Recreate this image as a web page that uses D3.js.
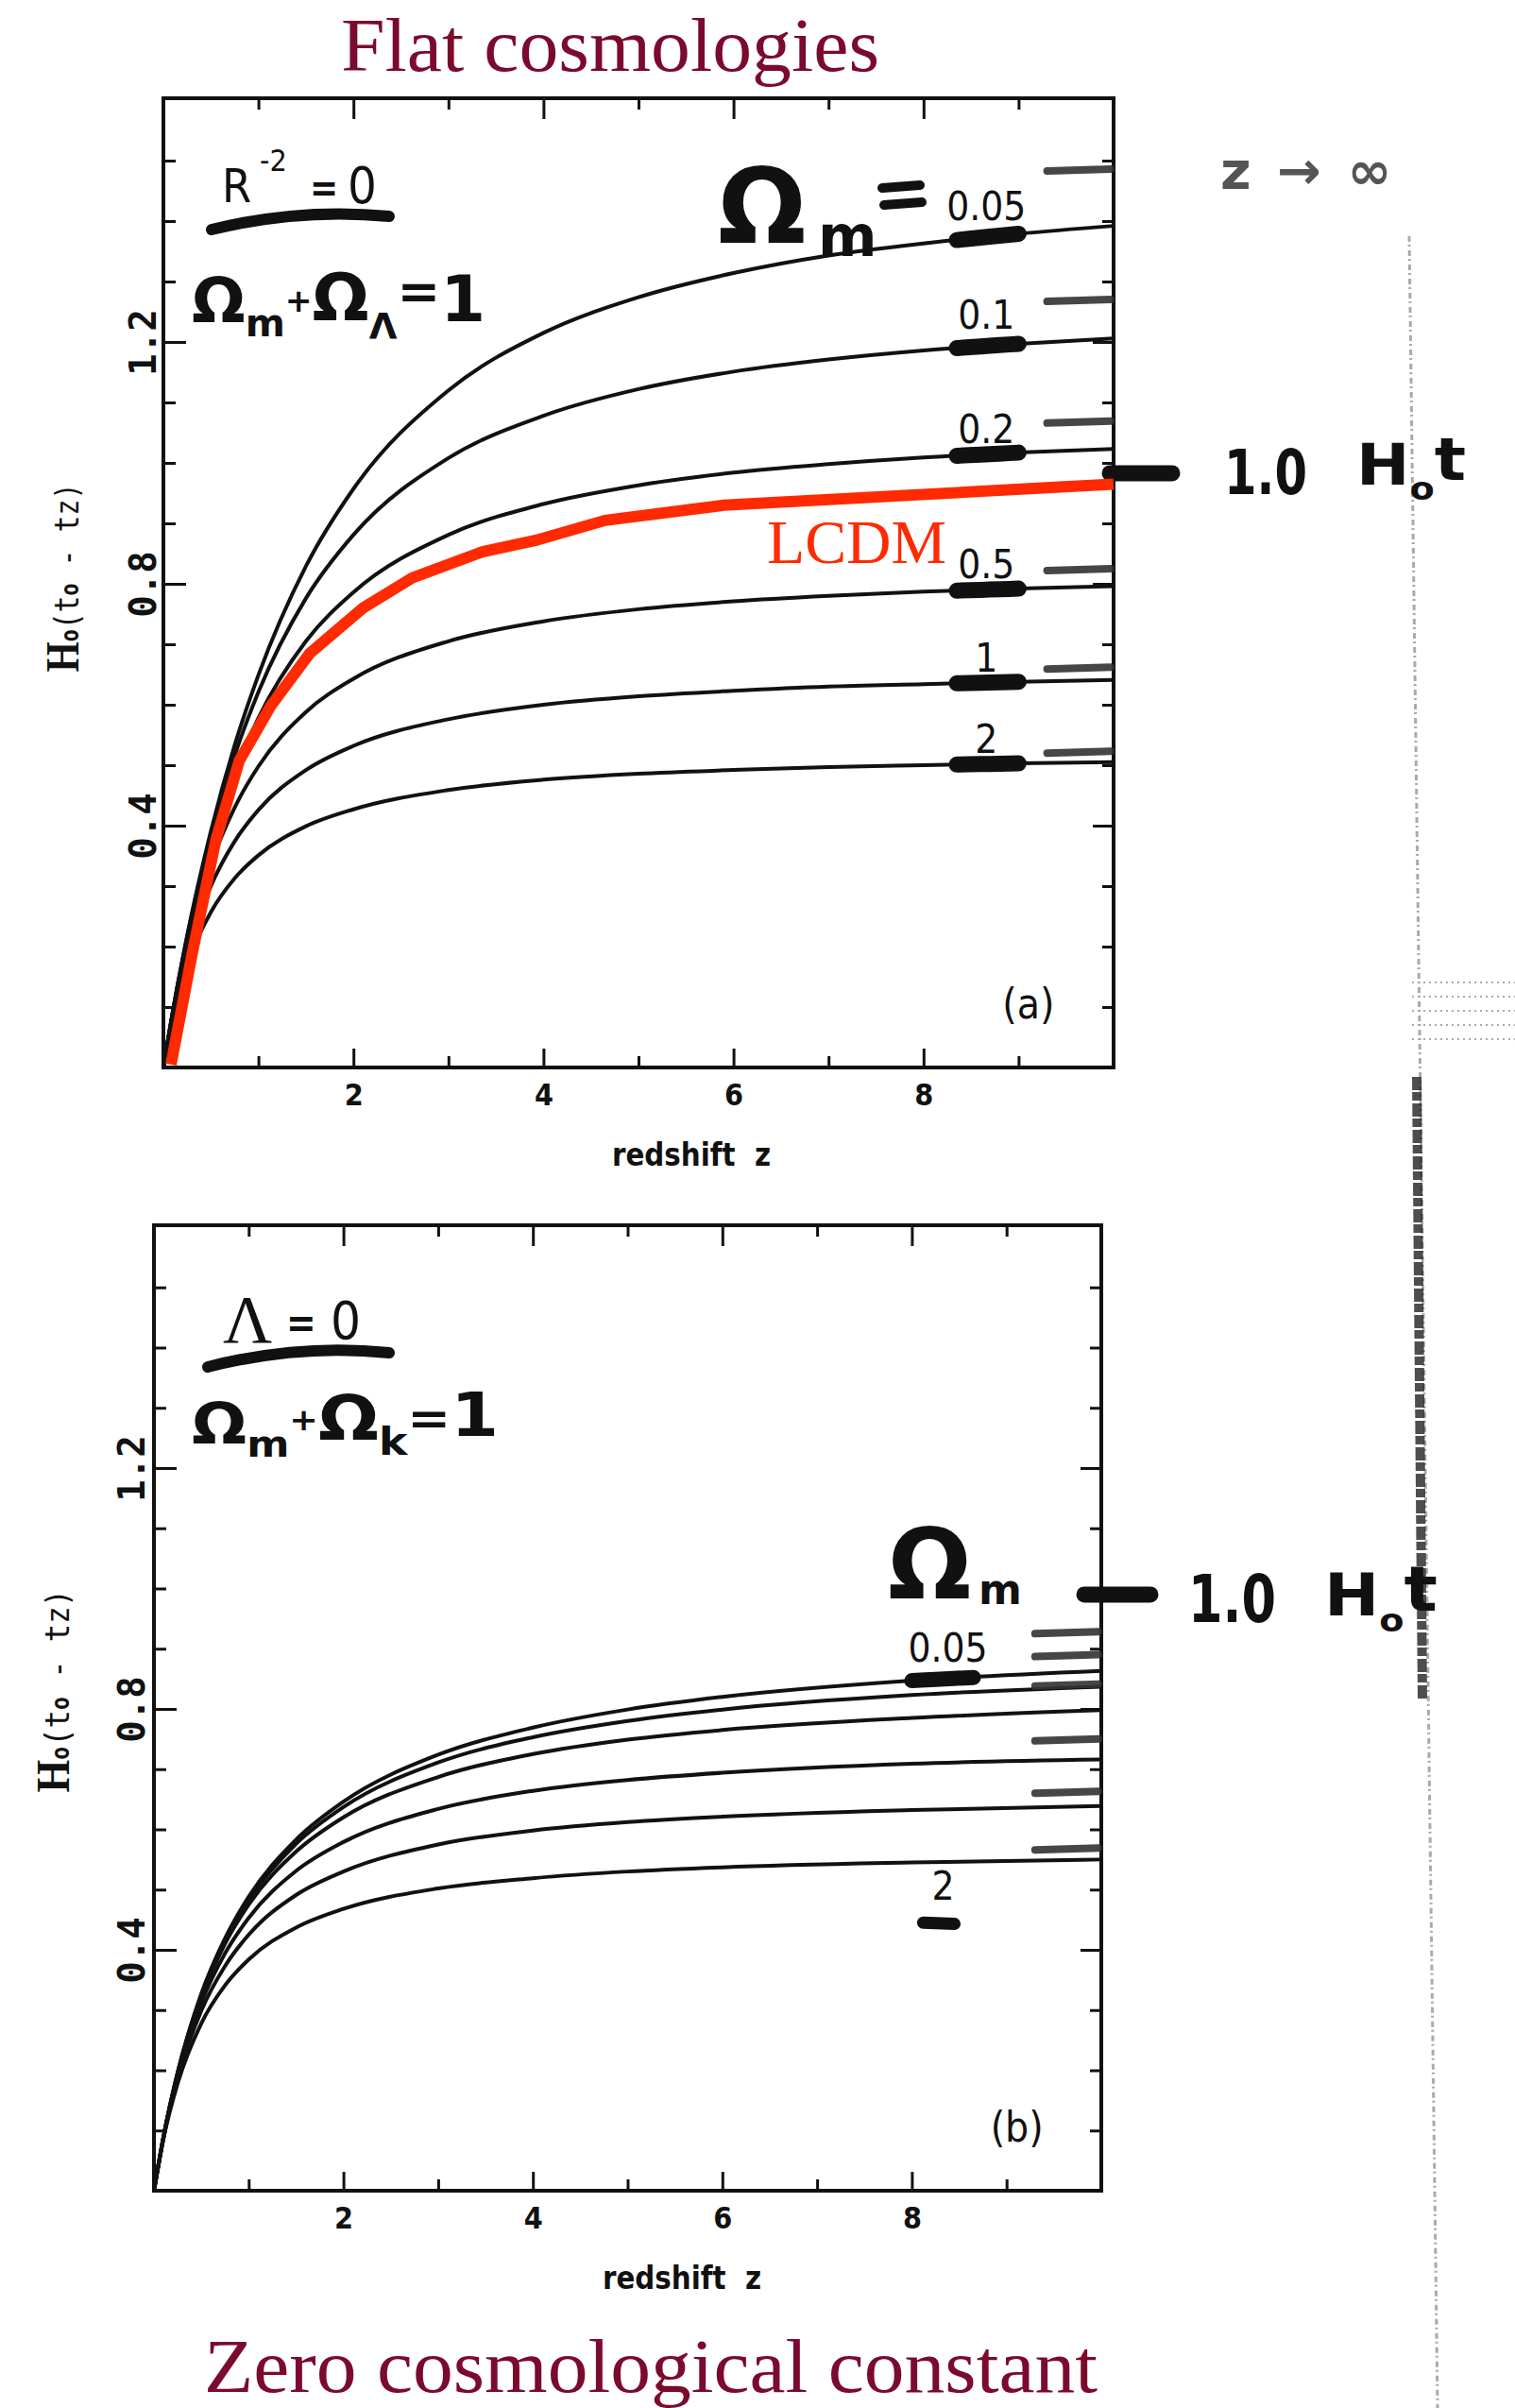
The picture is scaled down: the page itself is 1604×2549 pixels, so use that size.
<!DOCTYPE html>
<html>
<head>
<meta charset="utf-8">
<script src="https://cdn.jsdelivr.net/npm/d3@7"></script>
<style>
  body { margin: 0; background: #fff; }
  svg { display: block; }
</style>
</head>
<body>
<div id="chart"></div>
<script>
// Lookback time H0(t0 - tz) against redshift

// panel (a): flat cosmologies, one array per Omega_m
const zFlat = [0, 0.1, 0.25, 0.5, 0.75, 1, 1.5, 2, 3, 4, 5, 6, 7, 8, 9, 10]
const flat005 = [0, 0.094, 0.218, 0.391, 0.533, 0.649, 0.829, 0.957, 1.120, 1.215, 1.274, 1.314, 1.343, 1.363, 1.379, 1.392]
const flat01 = [0, 0.093, 0.216, 0.383, 0.516, 0.621, 0.776, 0.881, 1.008, 1.078, 1.122, 1.151, 1.171, 1.186, 1.197, 1.206]
const flat02 = [0, 0.093, 0.212, 0.369, 0.487, 0.578, 0.705, 0.786, 0.881, 0.932, 0.963, 0.984, 0.998, 1.009, 1.017, 1.023]
const flat05 = [0, 0.091, 0.201, 0.336, 0.430, 0.498, 0.588, 0.643, 0.705, 0.738, 0.758, 0.771, 0.780, 0.787, 0.792, 0.796]
const flat1 = [0, 0.088, 0.187, 0.300, 0.374, 0.426, 0.492, 0.532, 0.576, 0.600, 0.614, 0.623, 0.630, 0.634, 0.638, 0.641]
const flat2 = [0, 0.083, 0.168, 0.257, 0.313, 0.351, 0.399, 0.427, 0.459, 0.476, 0.486, 0.492, 0.497, 0.500, 0.503, 0.505]

// the red LCDM polyline drawn over panel (a)
const lcdmZ = [0.08, 0.3, 0.55, 0.8, 1.13, 1.54, 2.1, 2.62, 3.36, 3.92, 4.65, 5.9, 10]
const lcdmT = [0.005, 0.186, 0.375, 0.508, 0.598, 0.685, 0.76, 0.81, 0.853, 0.872, 0.905, 0.93, 0.965]

// panel (b): zero cosmological constant
const zOpen = [0, 0.1, 0.25, 0.5, 0.75, 1, 1.5, 2, 3, 4, 5, 6, 8, 10]
const open005 = [0, 0.089, 0.196, 0.327, 0.419, 0.488, 0.583, 0.646, 0.724, 0.769, 0.799, 0.820, 0.847, 0.863]
const open01 = [0, 0.089, 0.196, 0.325, 0.416, 0.483, 0.576, 0.637, 0.711, 0.753, 0.780, 0.799, 0.823, 0.837]
const open02 = [0, 0.089, 0.195, 0.321, 0.410, 0.475, 0.563, 0.620, 0.687, 0.725, 0.749, 0.765, 0.785, 0.798]
const open05 = [0, 0.088, 0.192, 0.312, 0.394, 0.453, 0.531, 0.579, 0.634, 0.664, 0.682, 0.694, 0.709, 0.716]
const open1 = [0, 0.087, 0.187, 0.299, 0.373, 0.425, 0.491, 0.530, 0.575, 0.598, 0.612, 0.621, 0.632, 0.639]
const open2 = [0, 0.086, 0.178, 0.278, 0.341, 0.384, 0.437, 0.468, 0.502, 0.519, 0.530, 0.537, 0.545, 0.550]

const omegaLabels = ["0.05", "0.1", "0.2", "0.5", "1", "2"]

// hand-drawn z -> infinity marks at the right edge
const flatAsym = [1.483, 1.267, 1.066, 0.822, 0.659, 0.520]
const openAsym = [0.925, 0.887, 0.838, 0.747, 0.660, 0.566]

// axis ticks
const xMajor = [2, 4, 6, 8]
const xMinor = [1, 3, 5, 7, 9]
const yMajor = [0.4, 0.8, 1.2]
const yMinor = [0.1, 0.2, 0.3, 0.5, 0.6, 0.7, 0.9, 1.0, 1.1, 1.3, 1.4, 1.5]

const ink = "#111"
const titleRed = "#7b0a2c"
const lcdmRed = "#ff2a00"
const printFont = "'Liberation Sans Narrow', 'DejaVu Sans Condensed', 'Liberation Sans', sans-serif"
const handFont = "'DejaVu Sans', sans-serif"

let svg = d3.select("#chart")
    .append("svg")
    .attr("width", 1604)
    .attr("height", 2549)

// value of a series at any z, straight between read points
function valueAt(pts, z) {
    for (let i = 1; i < pts.length; i++) {
        if (z <= pts[i][0]) {
            let f = (z - pts[i - 1][0]) / (pts[i][0] - pts[i - 1][0])
            return pts[i - 1][1] + f * (pts[i][1] - pts[i - 1][1])
        }
    }
    return pts[pts.length - 1][1]
}

function makeSeries(zs, arrays) {
    return arrays.map((t, i) => ({ label: omegaLabels[i], pts: zs.map((z, j) => [z, t[j]]) }))
}

// faint scan line down the right margin
svg.append("line")
    .attr("x1", 1492).attr("y1", 250).attr("x2", 1522).attr("y2", 2549)
    .attr("stroke", "#666").attr("stroke-width", 3)
    .attr("stroke-dasharray", "6,3,2,4").attr("opacity", 0.55)
svg.append("line")
    .attr("x1", 1500).attr("y1", 1140).attr("x2", 1506).attr("y2", 1800)
    .attr("stroke", "#222").attr("stroke-width", 10).attr("opacity", 0.8)
    .attr("stroke-dasharray", "14,2,9,3")
svg.append("g").selectAll("line")
    .data([1040, 1055, 1070, 1085, 1100]).enter()
    .append("line")
    .attr("x1", 1495).attr("x2", 1604)
    .attr("y1", d => d).attr("y2", d => d)
    .attr("stroke", "#aaa").attr("stroke-width", 2).attr("stroke-dasharray", "2,4")

// one framed panel with ticks on all four sides
function drawPanel(p) {
    let x = d3.scaleLinear().domain([0, 10]).range([p.left, p.right])
    let y = d3.scaleLinear().domain([0, 1.6]).range([p.bottom, p.top])
    let g = svg.append("g")

    function styleAxis(a) {
        a.select(".domain").remove()
        a.selectAll("line").attr("stroke", ink).attr("stroke-width", 3)
        return a
    }

    styleAxis(g.append("g").attr("transform", `translate(0,${p.bottom})`)
        .call(d3.axisBottom(x).tickValues(xMajor).tickSize(-20).tickSizeOuter(0).tickPadding(17).tickFormat(d3.format("d"))))
        .attr("font-family", printFont).attr("font-size", 32).attr("font-weight", "bold")
        .selectAll("text").attr("fill", ink)
    styleAxis(g.append("g").attr("transform", `translate(0,${p.bottom})`)
        .call(d3.axisBottom(x).tickValues(xMinor).tickSize(-12).tickSizeOuter(0).tickFormat("")))
    styleAxis(g.append("g").attr("transform", `translate(0,${p.top})`)
        .call(d3.axisTop(x).tickValues(xMajor).tickSize(-20).tickSizeOuter(0).tickFormat("")))
    styleAxis(g.append("g").attr("transform", `translate(0,${p.top})`)
        .call(d3.axisTop(x).tickValues(xMinor).tickSize(-10).tickSizeOuter(0).tickFormat("")))

    let left = styleAxis(g.append("g").attr("transform", `translate(${p.left},0)`)
        .call(d3.axisLeft(y).tickValues(yMajor).tickSize(-24).tickSizeOuter(0).tickFormat(d3.format(".1f"))))
    left.attr("font-family", "'DejaVu Sans Mono', monospace").attr("font-size", 39).attr("font-weight", "bold")
    left.selectAll(".tick text")
        .attr("x", 0).attr("dy", null).attr("fill", ink)
        .attr("text-anchor", "middle")
        .attr("transform", `translate(${p.labelShift},0) rotate(-90)`)
    styleAxis(g.append("g").attr("transform", `translate(${p.left},0)`)
        .call(d3.axisLeft(y).tickValues(yMinor).tickSize(-13).tickSizeOuter(0).tickFormat("")))
    styleAxis(g.append("g").attr("transform", `translate(${p.right},0)`)
        .call(d3.axisRight(y).tickValues(yMajor).tickSize(-22).tickSizeOuter(0).tickFormat("")))
    styleAxis(g.append("g").attr("transform", `translate(${p.right},0)`)
        .call(d3.axisRight(y).tickValues(yMinor).tickSize(-12).tickSizeOuter(0).tickFormat("")))

    g.append("rect")
        .attr("x", p.left).attr("y", p.top - 2)
        .attr("width", p.right - p.left).attr("height", p.bottom - p.top + 2)
        .attr("fill", "none").attr("stroke", ink).attr("stroke-width", 4)

    // axis titles
    g.append("text")
        .attr("x", p.left + 475).attr("y", p.bottom + 104)
        .attr("font-family", printFont).attr("font-size", 34).attr("font-weight", "bold")
        .attr("textLength", 168).attr("lengthAdjust", "spacingAndGlyphs")
        .style("white-space", "pre")
        .attr("fill", ink)
        .text("redshift  z")

    let yt = g.append("text")
        .attr("transform", `translate(${p.left - 90},${y(p.titleAt)}) rotate(-90)`)
        .attr("text-anchor", "middle")
        .attr("font-family", "'DejaVu Sans Mono', monospace")
        .attr("font-weight", "bold")
        .attr("textLength", p.titleLen).attr("lengthAdjust", "spacingAndGlyphs")
        .attr("fill", ink)
    yt.append("tspan").attr("font-family", "'Liberation Serif', serif").attr("font-size", 50).text("H")
    yt.append("tspan").attr("font-size", 26).text("o")
    yt.append("tspan").attr("font-size", 36).attr("font-weight", "normal").text("(t")
    yt.append("tspan").attr("font-size", 26).text("o")
    yt.append("tspan").attr("font-size", 36).attr("font-weight", "normal").text(" - t")
    yt.append("tspan").attr("font-size", 34).attr("font-weight", "normal").text("z)")

    g.append("text")
        .attr("x", x(8.83)).attr("y", p.bottom - 52)
        .attr("font-family", printFont).attr("font-size", 44)
        .attr("fill", ink)
        .text(p.tag)

    // the curves
    let line = d3.line()
        .x(d => x(d[0]))
        .y(d => y(d[1]))
        .curve(d3.curveMonotoneX)

    g.append("g").selectAll("path")
        .data(p.series).enter()
        .append("path")
        .attr("d", d => line(d.pts))
        .attr("fill", "none")
        .attr("stroke", ink)
        .attr("stroke-width", 4)

    // hand-drawn asymptote dashes
    g.append("g").selectAll("line")
        .data(p.asym).enter()
        .append("line")
        .attr("x1", x(9.3)).attr("x2", x(10) - 3)
        .attr("y1", d => y(d)).attr("y2", d => y(d) - 2)
        .attr("stroke", "#333").attr("stroke-width", 8)
        .attr("stroke-linecap", "round").attr("opacity", 0.9)

    // big marker at 1.0 H0 t
    g.append("line")
        .attr("x1", p.right + p.oneFrom).attr("x2", p.right + p.oneTo)
        .attr("y1", y(p.oneAt)).attr("y2", y(p.oneAt))
        .attr("stroke", ink).attr("stroke-width", 17).attr("stroke-linecap", "round")

    return { x, y, g, line }
}

// hand-written glyph helper
function hand(g, str, x, y, size, opts) {
    opts = opts || {}
    let t = g.append("text")
        .attr("x", x).attr("y", y)
        .attr("font-family", opts.font || handFont)
        .attr("font-weight", opts.weight || "bold")
        .attr("font-size", size)
        .attr("fill", opts.fill || ink)
        .text(str)
    if (opts.len) t.attr("textLength", opts.len).attr("lengthAdjust", "spacingAndGlyphs")
    return t
}

// hand-written formula: one text element, glyphs shifted up and down with dy
function formula(g, x, y, parts, len) {
    let t = g.append("text")
        .attr("x", x).attr("y", y)
        .attr("font-family", handFont)
        .attr("font-weight", "bold")
        .attr("fill", ink)
    if (len) t.attr("textLength", len).attr("lengthAdjust", "spacingAndGlyphs")
    parts.forEach(p => t.append("tspan").attr("font-size", p[1]).attr("dy", p[2]).text(p[0]))
    return t
}

function blob(g, x1, y1, x2, y2, w) {
    g.append("line")
        .attr("x1", x1).attr("y1", y1).attr("x2", x2).attr("y2", y2)
        .attr("stroke", ink).attr("stroke-width", w).attr("stroke-linecap", "round")
}

// ---------- panel (a) ----------
let flatSeries = makeSeries(zFlat, [flat005, flat01, flat02, flat05, flat1, flat2])
let A = drawPanel({
    left: 173, right: 1179, top: 106, bottom: 1130,
    labelShift: -8, titleAt: 0.81, titleLen: 200, tag: "(a)",
    oneAt: 0.983, oneFrom: -4, oneTo: 62,
    series: flatSeries, asym: flatAsym
})

// thick marker strokes on each curve near z ~ 8.7
flatSeries.forEach(s => {
    let seg = [8.35, 8.6, 8.8, 9.0].map(z => [z, valueAt(s.pts, z)])
    A.g.append("path").attr("d", A.line(seg))
        .attr("fill", "none").attr("stroke", ink)
        .attr("stroke-width", 17).attr("stroke-linecap", "round")
})

A.g.selectAll(".omlabel")
    .data(flatSeries).enter()
    .append("text")
    .attr("x", A.x(8.66))
    .attr("y", (d, i) => A.y(valueAt(d.pts, 8.66)) - (i < 2 ? 18 : 12))
    .attr("text-anchor", "middle")
    .attr("font-family", printFont).attr("font-size", 42)
    .attr("fill", ink)
    .text(d => d.label)

// LCDM
A.g.append("path")
    .attr("d", d3.line().x(d => A.x(d[0])).y(d => A.y(d[1]))(lcdmZ.map((z, i) => [z, lcdmT[i]])))
    .attr("fill", "none")
    .attr("stroke", lcdmRed)
    .attr("stroke-width", 12)
A.g.append("text")
    .attr("x", 812).attr("y", 596)
    .attr("font-family", "'Liberation Serif', serif")
    .attr("font-size", 66)
    .attr("fill", lcdmRed)
    .attr("textLength", 190).attr("lengthAdjust", "spacingAndGlyphs")
    .text("LCDM")

// R^-2 = 0
hand(A.g, "R", 235, 214, 50, { font: printFont, weight: "normal" })
hand(A.g, "-2", 275, 181, 32, { font: printFont, weight: "normal" })
hand(A.g, "=", 328, 213, 40, { font: printFont, weight: "bold" })
hand(A.g, "0", 368, 215, 54, { font: printFont, weight: "normal" })
A.g.append("path").attr("d", "M224,243 Q318,220 412,229")
    .attr("fill", "none").attr("stroke", ink).attr("stroke-width", 12).attr("stroke-linecap", "round")

// Omega_m + Omega_Lambda = 1
formula(A.g, 203, 341, [
    ["Ω", 66, 0], ["m", 40, 15], ["+", 34, -26], ["Ω", 70, 9],
    ["Λ", 38, 19], ["=", 54, -31], ["1", 68, 13]
], 311)

// big Omega_m =
hand(A.g, "Ω", 760, 257, 110)
hand(A.g, "m", 866, 271, 60)
blob(A.g, 934, 199, 974, 196, 10)
blob(A.g, 936, 217, 976, 214, 10)

// z -> infinity and 1.0 H0 t
let zinf = hand(svg, "z → ∞", 1292, 200, 56, { fill: "#555" })
zinf.attr("letter-spacing", 4)
hand(svg, "1.0", 1296, 523, 66, { len: 88 })
formula(svg, 1436, 513, [["H", 60, 0], ["o", 34, 16], ["t", 62, -21]], 116)

// ---------- panel (b) ----------
let openSeries = makeSeries(zOpen, [open005, open01, open02, open05, open1, open2])
let B = drawPanel({
    left: 163, right: 1166, top: 1299, bottom: 2319,
    labelShift: -10, titleAt: 0.83, titleLen: 215, tag: "(b)",
    oneAt: 0.99, oneFrom: -18, oneTo: 52,
    series: openSeries, asym: openAsym
})

let top05 = openSeries[0]
B.g.append("path")
    .attr("d", B.line([8.0, 8.3, 8.65].map(z => [z, valueAt(top05.pts, z)])))
    .attr("fill", "none").attr("stroke", ink)
    .attr("stroke-width", 16).attr("stroke-linecap", "round")
B.g.append("text")
    .attr("x", B.x(8.38)).attr("y", B.y(valueAt(top05.pts, 8.38)) - 18)
    .attr("text-anchor", "middle")
    .attr("font-family", printFont).attr("font-size", 42)
    .attr("fill", ink)
    .text(top05.label)
let bottom2 = openSeries[5]
B.g.append("text")
    .attr("x", B.x(8.33)).attr("y", B.y(valueAt(bottom2.pts, 8.33)) + 40)
    .attr("text-anchor", "middle")
    .attr("font-family", printFont).attr("font-size", 42)
    .attr("fill", ink)
    .text(bottom2.label)
blob(B.g, B.x(8.12), B.y(0.445), B.x(8.45), B.y(0.443), 13)

// Lambda = 0
hand(B.g, "Λ", 236, 1421, 72, { font: "'Liberation Serif', serif", weight: "normal" })
hand(B.g, "=", 303, 1415, 42, { font: printFont, weight: "bold" })
hand(B.g, "0", 350, 1417, 56, { font: printFont, weight: "normal" })
B.g.append("path").attr("d", "M220,1447 Q318,1422 412,1432")
    .attr("fill", "none").attr("stroke", ink).attr("stroke-width", 12).attr("stroke-linecap", "round")

// Omega_m + Omega_k = 1
formula(B.g, 203, 1528, [
    ["Ω", 60, 0], ["m", 38, 14], ["+", 32, -28], ["Ω", 66, 10],
    ["k", 40, 16], ["=", 48, -22], ["1", 64, 2]
], 325)

// Omega_m heading and 1.0 H0 t
hand(B.g, "Ω", 940, 1692, 104)
hand(B.g, "m", 1036, 1698, 44)
hand(svg, "1.0", 1258, 1717, 70, { len: 93 })
formula(svg, 1402, 1710, [["H", 62, 0], ["o", 34, 17], ["t", 66, -22]], 120)

// ---------- page titles ----------
svg.append("text")
    .attr("x", 361).attr("y", 75)
    .attr("font-family", "'Liberation Serif', serif")
    .attr("font-size", 80)
    .attr("fill", titleRed)
    .attr("textLength", 570).attr("lengthAdjust", "spacingAndGlyphs")
    .text("Flat cosmologies")

svg.append("text")
    .attr("x", 216).attr("y", 2532)
    .attr("font-family", "'Liberation Serif', serif")
    .attr("font-size", 80)
    .attr("fill", titleRed)
    .attr("textLength", 946).attr("lengthAdjust", "spacingAndGlyphs")
    .text("Zero cosmological constant")
</script>
</body>
</html>
